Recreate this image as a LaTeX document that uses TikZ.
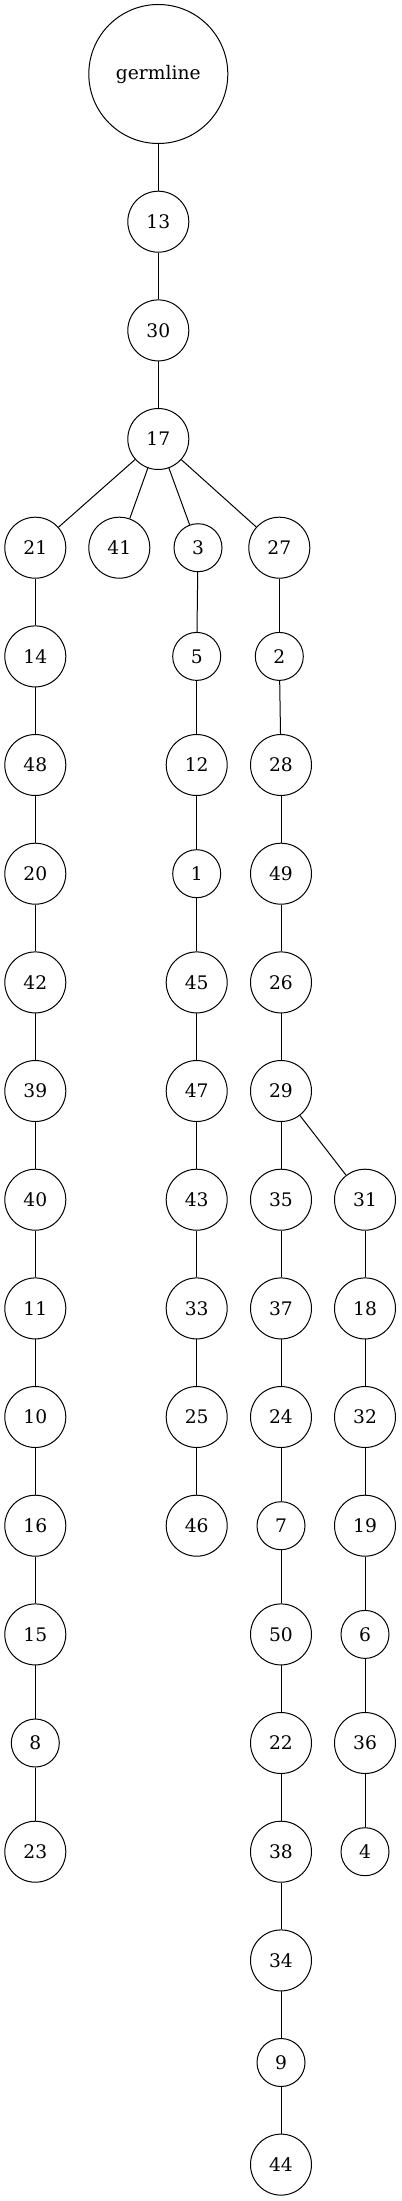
\documentclass[tikz,border=0pt]{standalone}
\usepackage{fontspec}
\setmainfont{DejaVu Serif}
\tikzset{every picture/.style={line width=0.75pt}}
\tikzset{
  vtx/.style={draw,circle,inner sep=0pt,minimum size=45.75pt,font=\fontsize{14}{17}\selectfont},
  vtxs/.style={draw,circle,inner sep=0pt,minimum size=36pt,font=\fontsize{14}{17}\selectfont},
  rootvtx/.style={draw,circle,inner sep=0pt,minimum size=104.25pt,font=\fontsize{14}{17}\selectfont}
}
\begin{document}
\begin{tikzpicture}[x=0.75pt,y=0.75pt,yscale=-1,xscale=1]
\useasboundingbox (0,0) rectangle (401,2201);

%Shape: Circle root and trunk
\node [rootvtx] (germ) at (158.3,74) {germline};
\node [vtx] (n13) at (158.3,221.7) {13};
\node [vtx] (n30) at (158.3,330.4) {30};
\node [vtx] (n17) at (158.3,439) {17};

%Shape: Circle left branch
\node [vtx] (n21) at (35.3,547.7) {21};
\node [vtx] (n14) at (35.3,656.4) {14};
\node [vtx] (n48) at (35.3,765) {48};
\node [vtx] (n20) at (35.3,873.7) {20};
\node [vtx] (n42) at (35.3,982.4) {42};
\node [vtx] (n39) at (35.3,1091) {39};
\node [vtx] (n40) at (35.3,1199.7) {40};
\node [vtx] (n11) at (35.3,1308.4) {11};
\node [vtx] (n10) at (35.3,1417) {10};
\node [vtx] (n16) at (35.3,1525.7) {16};
\node [vtx] (n15) at (35.3,1634.4) {15};
\node [vtxs] (n8) at (35.3,1743) {8};
\node [vtx] (n23) at (35.3,1851.7) {23};

%Shape: Circle leaf
\node [vtx] (n41) at (119.3,547.7) {41};

%Shape: Circle middle branch
\node [vtxs] (n3) at (198,547.7) {3};
\node [vtxs] (n5) at (196.7,656.4) {5};
\node [vtx] (n12) at (196.7,765) {12};
\node [vtxs] (n1) at (196.7,873.7) {1};
\node [vtx] (n45) at (196.7,982.4) {45};
\node [vtx] (n47) at (196.7,1091) {47};
\node [vtx] (n43) at (196.7,1199.7) {43};
\node [vtx] (n33) at (196.7,1308.4) {33};
\node [vtx] (n25) at (196.7,1417) {25};
\node [vtx] (n46) at (196.7,1525.7) {46};

%Shape: Circle right branch
\node [vtx] (n27) at (279.3,547.7) {27};
\node [vtxs] (n2) at (279.3,656.4) {2};
\node [vtx] (n28) at (281,765) {28};
\node [vtx] (n49) at (281,873.7) {49};
\node [vtx] (n26) at (281,982.4) {26};
\node [vtx] (n29) at (281,1091) {29};
\node [vtx] (n35) at (281,1199.7) {35};
\node [vtx] (n37) at (281,1308.4) {37};
\node [vtx] (n24) at (281,1417) {24};
\node [vtxs] (n7) at (281,1525.7) {7};
\node [vtx] (n50) at (281,1634.4) {50};
\node [vtx] (n22) at (281,1743) {22};
\node [vtx] (n38) at (281,1851.7) {38};
\node [vtx] (n34) at (281,1960.4) {34};
\node [vtxs] (n9) at (281,2062.5) {9};
\node [vtx] (n44) at (281,2164.6) {44};

%Shape: Circle side branch of 29
\node [vtx] (n31) at (365,1199.7) {31};
\node [vtx] (n18) at (365,1308.4) {18};
\node [vtx] (n32) at (365,1417) {32};
\node [vtx] (n19) at (365,1525.7) {19};
\node [vtxs] (n6) at (365,1634.4) {6};
\node [vtx] (n36) at (365,1743) {36};
\node [vtxs] (n4) at (365,1851.7) {4};

%Straight Lines
\draw (germ) -- (n13);
\draw (n13) -- (n30);
\draw (n30) -- (n17);
\draw (n17) -- (n21);
\draw (n17) -- (n41);
\draw (n17) -- (n3);
\draw (n17) -- (n27);

\draw (n21) -- (n14);
\draw (n14) -- (n48);
\draw (n48) -- (n20);
\draw (n20) -- (n42);
\draw (n42) -- (n39);
\draw (n39) -- (n40);
\draw (n40) -- (n11);
\draw (n11) -- (n10);
\draw (n10) -- (n16);
\draw (n16) -- (n15);
\draw (n15) -- (n8);
\draw (n8) -- (n23);

\draw (n3) -- (n5);
\draw (n5) -- (n12);
\draw (n12) -- (n1);
\draw (n1) -- (n45);
\draw (n45) -- (n47);
\draw (n47) -- (n43);
\draw (n43) -- (n33);
\draw (n33) -- (n25);
\draw (n25) -- (n46);

\draw (n27) -- (n2);
\draw (n2) -- (n28);
\draw (n28) -- (n49);
\draw (n49) -- (n26);
\draw (n26) -- (n29);
\draw (n29) -- (n35);
\draw (n29) -- (n31);
\draw (n35) -- (n37);
\draw (n37) -- (n24);
\draw (n24) -- (n7);
\draw (n7) -- (n50);
\draw (n50) -- (n22);
\draw (n22) -- (n38);
\draw (n38) -- (n34);
\draw (n34) -- (n9);
\draw (n9) -- (n44);

\draw (n31) -- (n18);
\draw (n18) -- (n32);
\draw (n32) -- (n19);
\draw (n19) -- (n6);
\draw (n6) -- (n36);
\draw (n36) -- (n4);

\end{tikzpicture}
\end{document}
